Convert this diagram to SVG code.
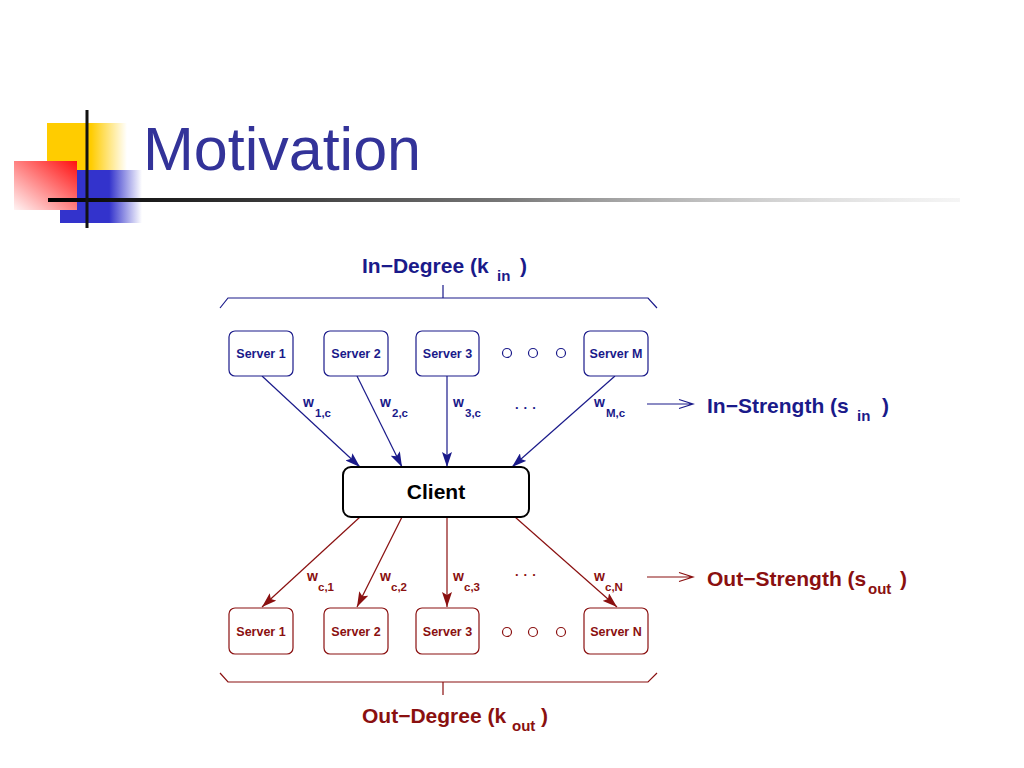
<svg xmlns="http://www.w3.org/2000/svg" width="1024" height="768" viewBox="0 0 1024 768">
<defs>
<linearGradient id="gy" x1="0" y1="0" x2="1" y2="0"><stop offset="0" stop-color="#ffcc00"/><stop offset="0.55" stop-color="#ffcc00"/><stop offset="1" stop-color="#ffcc00" stop-opacity="0"/></linearGradient>
<linearGradient id="gb" x1="0" y1="0" x2="1" y2="0"><stop offset="0" stop-color="#3333cc"/><stop offset="0.6" stop-color="#3333cc"/><stop offset="1" stop-color="#3333cc" stop-opacity="0"/></linearGradient>
<linearGradient id="gr" x1="1" y1="0" x2="0" y2="1"><stop offset="0" stop-color="#ff1010"/><stop offset="1" stop-color="#fff4f4"/></linearGradient>
<linearGradient id="gl" x1="0" y1="0" x2="1" y2="0"><stop offset="0" stop-color="#000"/><stop offset="0.5" stop-color="#777"/><stop offset="1" stop-color="#ddd" stop-opacity="0.3"/></linearGradient>
<marker id="ab" markerUnits="userSpaceOnUse" markerWidth="16" markerHeight="10" refX="15" refY="5" orient="auto"><path d="M0,0 L15,5 L0,10 L3,5 Z" fill="#1a1a8a"/></marker>
<marker id="ar" markerUnits="userSpaceOnUse" markerWidth="16" markerHeight="10" refX="15" refY="5" orient="auto"><path d="M0,0 L15,5 L0,10 L3,5 Z" fill="#8a1010"/></marker>
<style>
.t{font-family:"Liberation Sans",Arial,sans-serif;font-weight:bold}
.b{fill:#1a1a8a}.r{fill:#8a1010}
.nb{fill:#fff;stroke:#1a1a8a;stroke-width:1.2}
.nr{fill:#fff;stroke:#8a1010;stroke-width:1.2}
.srv{font-size:12.5px;text-anchor:middle}
.w{font-size:14px}.s{font-size:11.5px}
.dots{font-size:13px;letter-spacing:5px}
.lb{stroke:#1a1a8a;stroke-width:1.2;fill:none}
.lr{stroke:#8a1010;stroke-width:1.2;fill:none}
</style>
</defs>
<g id="title">
<rect x="47" y="123" width="80" height="47" fill="url(#gy)"/>
<rect x="60" y="170" width="82" height="53" fill="url(#gb)"/>
<rect x="14" y="161" width="63" height="49" fill="url(#gr)"/>
<rect x="48" y="198" width="912" height="4" fill="url(#gl)"/>
<rect x="85.5" y="110" width="3" height="118" fill="#111"/>
<text x="143" y="170" font-family="'Liberation Sans',Arial,sans-serif" font-size="61" fill="#333399">Motivation</text>
</g>
<g id="in-degree">
<path class="lb" d="M220,308 L228,298 L648,298 L657,308 M443,298 L443,285"/>
<text class="t b" font-size="21" x="362" y="273">In−Degree (k</text>
<text class="t b" font-size="15" x="497" y="281">in</text>
<text class="t b" font-size="21" x="520" y="273">)</text>
</g>
<g id="out-degree">
<path class="lr" d="M220,673 L228,682 L648,682 L657,673 M443,682 L443,695"/>
<text class="t r" font-size="21" x="362" y="723">Out−Degree (k</text>
<text class="t r" font-size="15" x="512" y="731">out</text>
<text class="t r" font-size="21" x="541" y="723">)</text>
</g>
<g id="connectors">
<line class="lb" x1="262" y1="376" x2="360" y2="467" marker-end="url(#ab)"/>
<line class="lb" x1="357" y1="376" x2="402" y2="467" marker-end="url(#ab)"/>
<line class="lb" x1="447" y1="376" x2="447" y2="467" marker-end="url(#ab)"/>
<line class="lb" x1="615" y1="376" x2="512" y2="467" marker-end="url(#ab)"/>
<line class="lr" x1="360" y1="517" x2="262" y2="607" marker-end="url(#ar)"/>
<line class="lr" x1="402" y1="517" x2="357" y2="607" marker-end="url(#ar)"/>
<line class="lr" x1="447" y1="517" x2="447" y2="607" marker-end="url(#ar)"/>
<line class="lr" x1="515" y1="517" x2="617" y2="607" marker-end="url(#ar)"/>
<path class="lb" d="M647,404 L693,404 M679,399.5 L693,404 L679,408.5"/>
<path class="lr" d="M647,577 L693,577 M679,572.5 L693,577 L679,581.5"/>
</g>
<g id="edge-labels">
<text class="t b w" x="303" y="407">w</text><text class="t b s" x="315" y="417">1,c</text>
<text class="t b w" x="380" y="407">w</text><text class="t b s" x="392" y="417">2,c</text>
<text class="t b w" x="453" y="407">w</text><text class="t b s" x="465" y="417">3,c</text>
<text class="t b w" x="594" y="407">w</text><text class="t b s" x="606" y="417">M,c</text>
<text class="t b dots" x="515" y="409">...</text>
<text class="t r w" x="307" y="581">w</text><text class="t r s" x="318" y="591">c,1</text>
<text class="t r w" x="380" y="581">w</text><text class="t r s" x="391" y="591">c,2</text>
<text class="t r w" x="453" y="581">w</text><text class="t r s" x="464" y="591">c,3</text>
<text class="t r w" x="594" y="581">w</text><text class="t r s" x="605" y="591">c,N</text>
<text class="t r dots" x="515" y="576">...</text>
</g>
<g id="in-strength">
<text class="t b" font-size="21" x="707" y="413">In−Strength (s</text>
<text class="t b" font-size="15" x="857" y="421">in</text>
<text class="t b" font-size="21" x="882" y="413">)</text>
</g>
<g id="out-strength">
<text class="t r" font-size="21" x="707" y="586">Out−Strength (s</text>
<text class="t r" font-size="15" x="868" y="594">out</text>
<text class="t r" font-size="21" x="900" y="586">)</text>
</g>
<g id="client">
<rect x="343" y="467" width="186" height="50" rx="8" fill="#fff" stroke="#000" stroke-width="2"/>
<text class="t" font-size="21" x="436" y="499" text-anchor="middle">Client</text>
</g>
<g id="in-server-1"><rect class="nb" x="229" y="331" width="64" height="45" rx="6"/><text class="t b srv" x="261" y="358">Server 1</text></g>
<g id="in-server-2"><rect class="nb" x="324" y="331" width="64" height="45" rx="6"/><text class="t b srv" x="356" y="358">Server 2</text></g>
<g id="in-server-3"><rect class="nb" x="416" y="331" width="63" height="45" rx="6"/><text class="t b srv" x="447.5" y="358">Server 3</text></g>
<g id="in-server-m"><rect class="nb" x="584" y="331" width="64" height="45" rx="6"/><text class="t b srv" x="616" y="358">Server M</text></g>
<g id="in-ellipsis" class="lb"><circle cx="507" cy="353" r="4.5"/><circle cx="533" cy="353" r="4.5"/><circle cx="561" cy="353" r="4.5"/></g>
<g id="out-server-1"><rect class="nr" x="229" y="608" width="64" height="46" rx="6"/><text class="t r srv" x="261" y="636">Server 1</text></g>
<g id="out-server-2"><rect class="nr" x="324" y="608" width="64" height="46" rx="6"/><text class="t r srv" x="356" y="636">Server 2</text></g>
<g id="out-server-3"><rect class="nr" x="416" y="608" width="63" height="46" rx="6"/><text class="t r srv" x="447.5" y="636">Server 3</text></g>
<g id="out-server-n"><rect class="nr" x="584" y="608" width="64" height="46" rx="6"/><text class="t r srv" x="616" y="636">Server N</text></g>
<g id="out-ellipsis" class="lr"><circle cx="507" cy="632" r="4.5"/><circle cx="533" cy="632" r="4.5"/><circle cx="561" cy="632" r="4.5"/></g>
</svg>
